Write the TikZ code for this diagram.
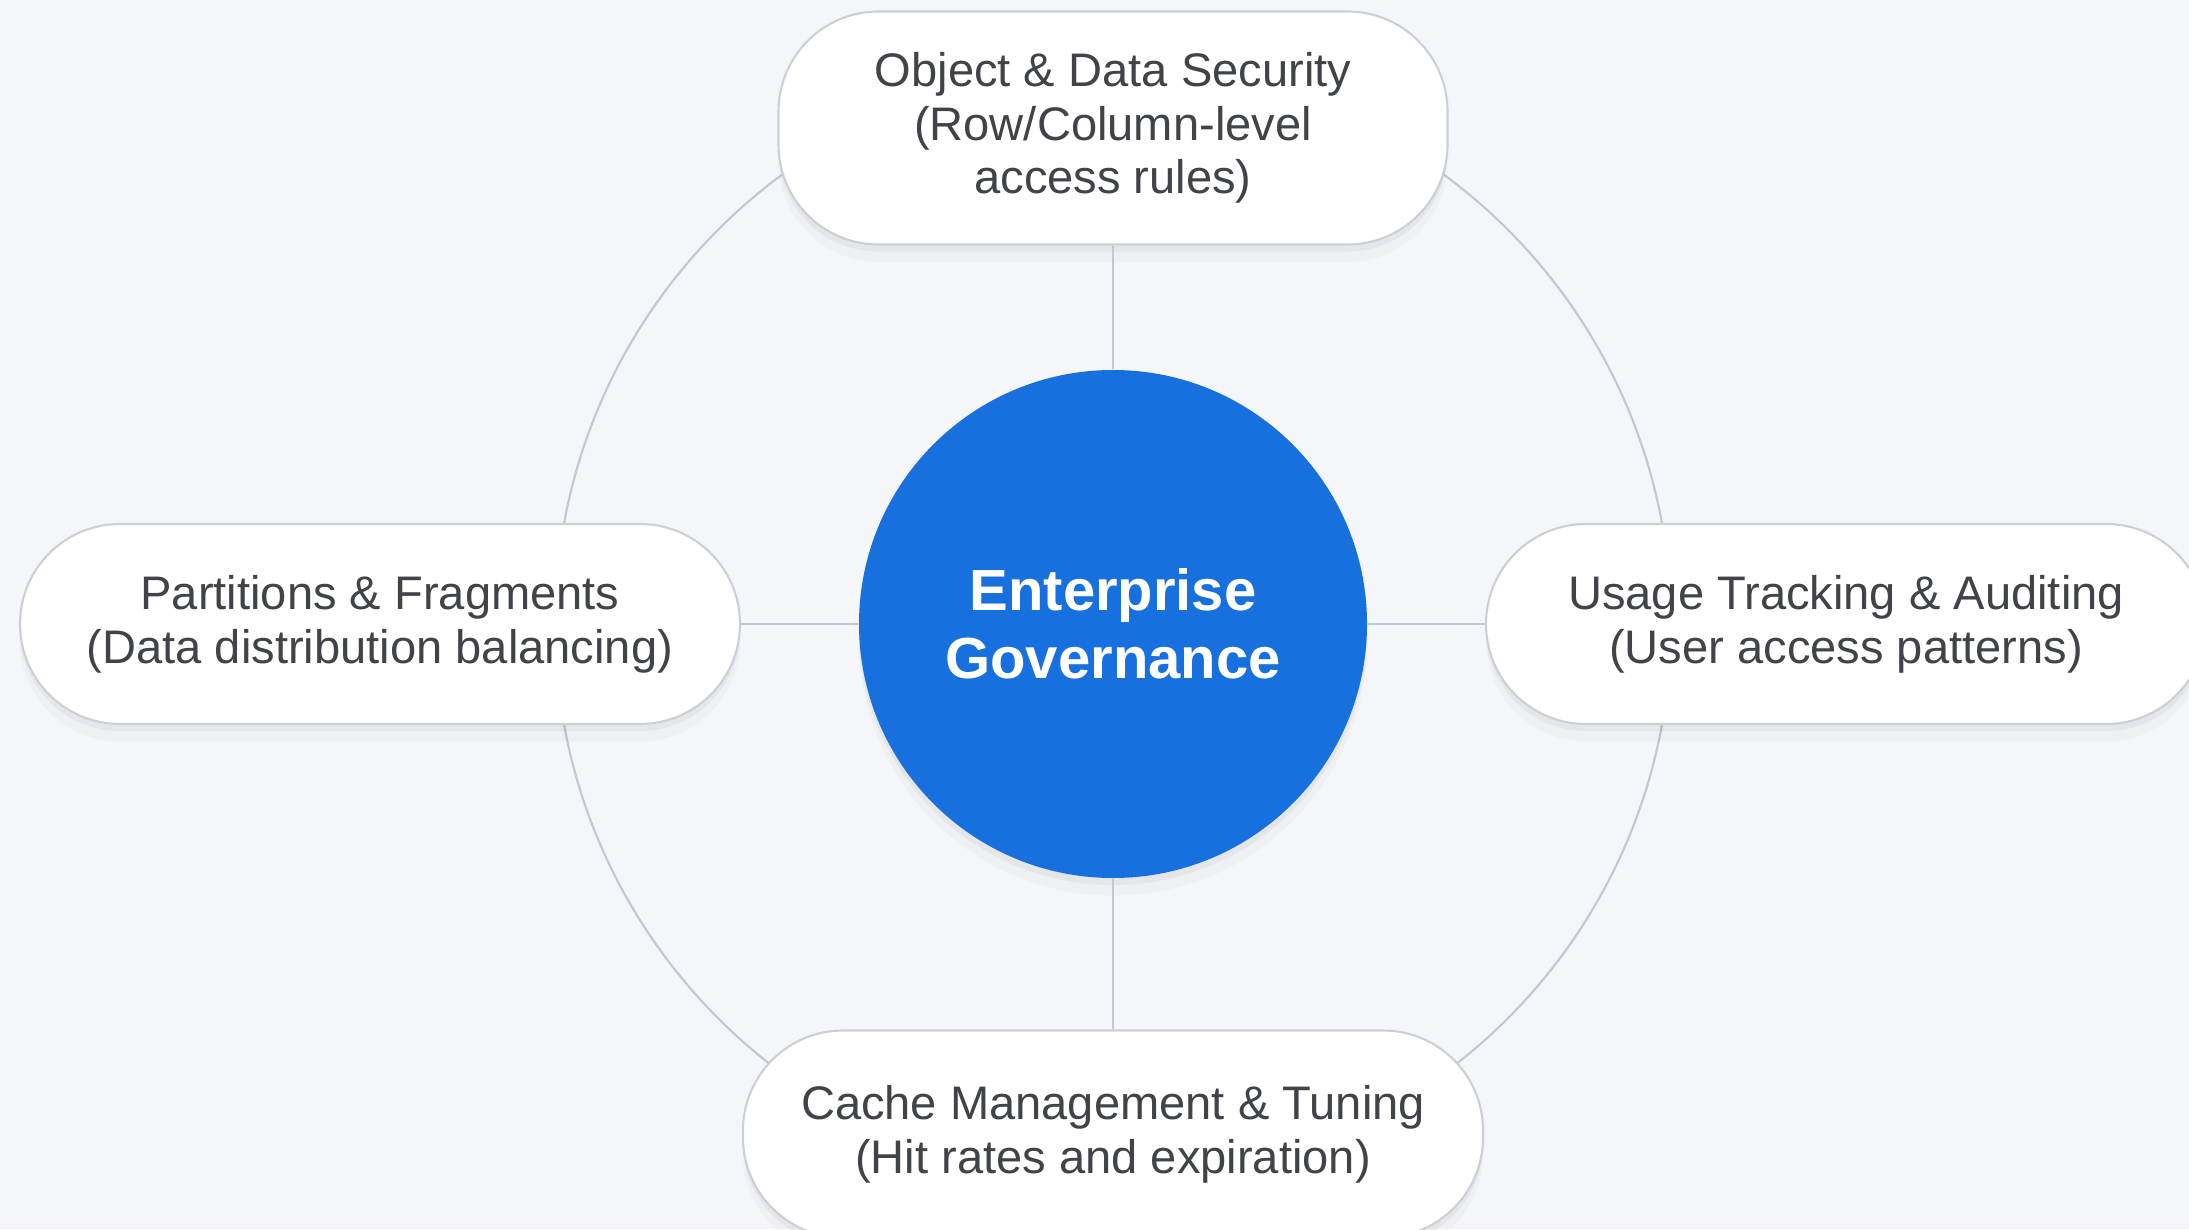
\documentclass[tikz,border=0pt]{standalone}
\usepackage{fontspec}
\setmainfont{Liberation Sans}
\usepackage{tikz}
\usetikzlibrary{shadows}
\definecolor{bgcol}{RGB}{244,246,249}
\definecolor{hubblue}{RGB}{23,112,222}
\definecolor{linegray}{RGB}{196,200,206}
\definecolor{pillline}{RGB}{204,208,214}
\definecolor{textgray}{RGB}{64,67,72}
\tikzset{soft/.style = {drop shadow = {shadow xshift = 0pt, shadow yshift = -5pt,
                                       opacity = 0.025, fill = black},
                        drop shadow = {shadow xshift = 0pt, shadow yshift = -2pt,
                                       opacity = 0.04, fill = black}}}
\tikzset{pill/.style = {draw = pillline, line width = 0.6pt, fill = white,
                        rounded corners = 1cm, align = center, text = textgray,
                        font = \fontsize{13.4}{15.3}\selectfont, soft}}
\tikzset{hubstyle/.style = {circle, fill = hubblue, minimum size = 5.08cm, inner sep = 0,
                            align = center, text = white,
                            font = \fontsize{16.5}{19.4}\selectfont\bfseries, soft}}
\tikzset{spoke/.style = {draw = linegray, line width = 0.6pt}}

\begin{document}
\begin{tikzpicture}
      \fill [bgcol] (0, 0) rectangle (21.89, 12.29);
      \useasboundingbox (0, 0) rectangle (21.89, 12.29);
      \node [hubstyle] (hub) at (11.13, 6.05) {Enterprise\\Governance};
      \draw [spoke] (hub.center) circle [radius = 5.58];
      \node [pill, minimum width = 6.69cm, minimum height = 2.33cm] (security) at (11.13, 11.01)
            {Object \& Data Security\\(Row/Column-level\\access rules)};
      \node [pill, minimum width = 7.2cm, minimum height = 2cm] (partitions) at (3.8, 6.05)
            {Partitions \& Fragments\\(Data distribution balancing)};
      \node [pill, minimum width = 7.2cm, minimum height = 2cm] (usage) at (18.46, 6.05)
            {Usage Tracking \& Auditing\\(User access patterns)};
      \node [pill, minimum width = 7.4cm, minimum height = 2.07cm] (cache) at (11.13, 0.95)
            {Cache Management \& Tuning\\(Hit rates and expiration)};
      \draw [spoke] (hub) -- (security);
      \draw [spoke] (hub) -- (partitions);
      \draw [spoke] (hub) -- (usage);
      \draw [spoke] (hub) -- (cache);
    \end{tikzpicture}
\end{document}
